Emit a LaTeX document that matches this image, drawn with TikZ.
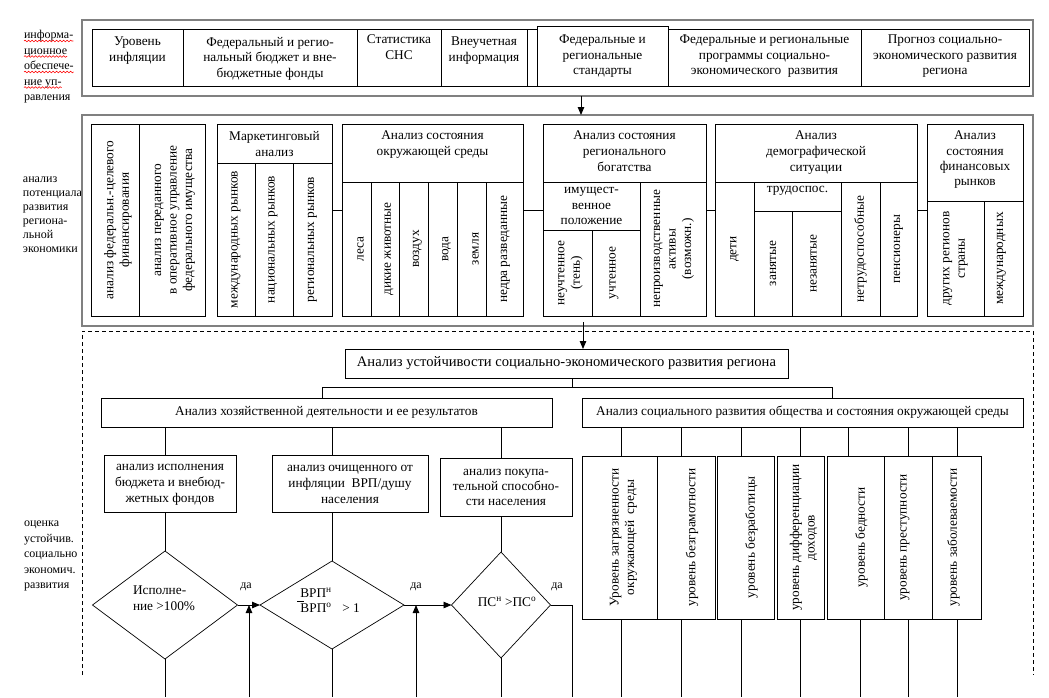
\documentclass[tikz,border=0pt]{standalone}
\usepackage{fontspec}
\setmainfont{Liberation Serif}
\usetikzlibrary{arrows.meta,shapes.geometric,fit,decorations.pathmorphing}
\begin{document}
\begin{tikzpicture}[x=1pt,y=-1pt,
 every node/.style={inner sep=0pt, outer sep=0pt, font=\fontsize{13.3}{15.5}\selectfont},
 cell/.style={draw, line width=0.9pt, fill=white, inner sep=0pt},
 gframe/.style={draw=black!50, line width=1.5pt, inner sep=0pt},
 ln/.style={line width=0.9pt},
 arr/.style={line width=0.9pt, -{Triangle[length=8pt,width=6.5pt]}},
 vt/.style={rotate=90, align=center},
 ct/.style={align=center},
 hd/.style={align=center, anchor=north, font=\fontsize{13.3}{16}\selectfont},
 lbl/.style={anchor=base west, font=\fontsize{12}{15}\selectfont},
 dia/.style={diamond, draw, line width=0.7pt, inner sep=0pt},
 yes/.style={font=\fontsize{12}{14}\selectfont},
 wavy/.style={draw=red, line width=0.6pt, decorate, decoration={snake, amplitude=0.8pt, segment length=3.5pt}}
]
\useasboundingbox (0,0) rectangle (1049,697);

% ---------- left labels
\foreach \t [count=\i] in {информа-,ционное,обеспече-,ние уп-,равления}
  \node[lbl] (La\i) at (24,{23+15.5*\i}) {\t};
\foreach \i in {1,...,4}
  \draw[wavy] ([yshift=-2.5pt]La\i.base west) -- ([yshift=-2.5pt]La\i.base east);
\foreach \t [count=\i] in {анализ,потенциала,развития,региона-,льной,экономики}
  \node[lbl] (Lb\i) at (23,{168.5+14*\i}) {\t};
\foreach \t [count=\i] in {оценка,устойчив.,социально,экономич.,развития}
  \node[lbl] (Lc\i) at (24,{511+15.5*\i}) {\t};

% ---------- top block
\node[gframe, fit={(82,20) (1033,96)}] (F1) {};
\node[cell, fit={(92,29) (183,86)}] (T1) {};
\node[cell, fit={(183,29) (357,86)}] (T2) {};
\node[cell, fit={(357,29) (441,86)}] (T3) {};
\node[cell, fit={(441,29) (527,86)}] (T4) {};
\node[cell, fit={(527,29) (537,86)}] (T4b) {};
\node[cell, fit={(668,29) (861,86)}] (T6) {};
\node[cell, fit={(861,29) (1029,86)}] (T7) {};
\node[cell, fit={(537,26) (668,86)}] (T5) {};
\node[ct, anchor=north] (T1t) at (T1.north |- 0,37) {Уровень\\инфляции};
\node[ct, anchor=north] (T2t) at (T2.north |- 0,37) {Федеральный и регио-\\нальный бюджет и вне-\\бюджетные фонды};
\node[ct, anchor=north] (T3t) at (T3.north |- 0,35) {Статистика\\СНС};
\node[ct, anchor=north] (T4t) at (T4.north |- 0,37) {Внеучетная\\информация};
\node[ct, anchor=north] (T5t) at (T5.north |- 0,35) {Федеральные и\\региональные\\стандарты};
\node[ct, anchor=north] (T6t) at (T6.north |- 0,35) {Федеральные и региональные\\программы социально-\\экономического\ \ развития};
\node[ct, anchor=north] (T7t) at (T7.north |- 0,35) {Прогноз социально-\\экономического развития\\региона};

% ---------- second block
\node[gframe, fit={(82,115) (1033,326)}] (F2) {};
\coordinate (ax) at (581,0);
\draw[arr] (F1.south -| ax) -- (F2.north -| ax);

\node[cell, fit={(91,124) (139,316)}] (A1) {};
\node[cell, fit={(139,124) (205,316)}] (A2) {};
\node[vt] (A1t) at ([xshift=3pt]A1.center) {анализ федеральн.-целевого\\финансирования};
\node[vt] (A2t) at ([xshift=3pt]A2.center) {анализ переданного\\в оперативное управление\\федерального имущества};

\node[cell, fit={(217,124) (332,163)}] (Mh) {};
\node[cell, fit={(217,163) (255,316)}] (M1) {};
\node[cell, fit={(255,163) (293,316)}] (M2) {};
\node[cell, fit={(293,163) (332,316)}] (M3) {};
\node[hd] (Mht) at (Mh.north |- 0,131) {Маркетинговый\\анализ};
\node[vt] (M1t) at (M1.center) {международных рынков};
\node[vt] (M2t) at ([xshift=-1pt]M2.center) {национальных рынков};
\node[vt] (M3t) at (M3.center) {региональных рынков};

\node[cell, fit={(342,124) (523,182)}] (Eh) {};
\node[cell, fit={(342,182) (371,316)}] (E1) {};
\node[cell, fit={(371,182) (399,316)}] (E2) {};
\node[cell, fit={(399,182) (428,316)}] (E3) {};
\node[cell, fit={(428,182) (457,316)}] (E4) {};
\node[cell, fit={(457,182) (486,316)}] (E5) {};
\node[cell, fit={(486,182) (523,316)}] (E6) {};
\node[hd] (Eht) at (Eh.north |- 0,131) {Анализ состояния\\окружающей среды};
\node[vt] (E1t) at ([xshift=4pt]E1.center) {леса};
\node[vt] (E2t) at ([xshift=4pt]E2.center) {дикие животные};
\node[vt] (E3t) at ([xshift=4pt]E3.center) {воздух};
\node[vt] (E4t) at ([xshift=4pt]E4.center) {вода};
\node[vt] (E5t) at ([xshift=4pt]E5.center) {земля};
\node[vt] (E6t) at ([xshift=1pt]E6.center) {недра разведанные};

\node[cell, fit={(543,124) (706,182)}] (Wh) {};
\node[cell, fit={(543,182) (640,230)}] (Ws) {};
\node[cell, fit={(543,230) (592,316)}] (W1) {};
\node[cell, fit={(592,230) (640,316)}] (W2) {};
\node[cell, fit={(640,182) (706,316)}] (W3) {};
\node[hd] (Wht) at (Wh.north |- 0,131) {Анализ состояния\\регионального\\богатства};
\node[ct] (Wst) at (Ws.center) {имущест-\\венное\\положение};
\node[vt] (W1t) at ([xshift=3pt]W1.center) {неучтенное\\(тень)};
\node[vt] (W2t) at ([xshift=-2pt]W2.center) {учтенное};
\node[vt] (W3t) at ([xshift=1pt]W3.center) {непроизводственные\\активы\\(возможн.)};

\node[cell, fit={(715,124) (917,182)}] (Dh) {};
\node[cell, fit={(715,182) (754,316)}] (D1) {};
\node[cell, fit={(754,182) (841,211)}] (Dt) {};
\node[cell, fit={(754,211) (792,316)}] (D2) {};
\node[cell, fit={(792,211) (841,316)}] (D3) {};
\node[cell, fit={(841,182) (880,316)}] (D4) {};
\node[cell, fit={(880,182) (917,316)}] (D5) {};
\node[hd] (Dht) at (Dh.north |- 0,131) {Анализ\\демографической\\ситуации};
\node[ct, anchor=north] (Dtt) at (Dt.north |- 0,186) {трудоспос.};
\node[vt] (D1t) at (D1.center) {дети};
\node[vt] (D2t) at (D2.center) {занятые};
\node[vt] (D3t) at ([xshift=-3pt]D3.center) {незанятые};
\node[vt] (D4t) at (D4.center) {нетрудоспособные};
\node[vt] (D5t) at (D5.center) {пенсионеры};

\node[cell, fit={(927,124) (1023,201)}] (Fh) {};
\node[cell, fit={(927,201) (984,316)}] (Fc1) {};
\node[cell, fit={(984,201) (1023,316)}] (Fc2) {};
\node[hd, font=\fontsize{13.3}{15.3}\selectfont] (Fht) at (Fh.north |- 0,131) {Анализ\\состояния\\финансовых\\рынков};
\node[vt] (Fc1t) at (Fc1.center) {других регионов\\страны};
\node[vt] (Fc2t) at ([xshift=-2pt]Fc2.center) {международных};

\coordinate (sp) at (0,210);
\draw[ln] (M3.east |- sp) -- (E1.west |- sp);
\draw[ln] (E6.east |- sp) -- (W1.west |- sp);
\draw[ln] (W3.east |- sp) -- (D1.west |- sp);
\draw[ln] (D5.east |- sp) -- (Fc1.west |- sp);

% ---------- third block
\draw[line width=0.8pt, dash pattern=on 4pt off 3pt] (82,675) -- (82,331) -- (1033,331) -- (1033,675);

\node[cell, fit={(345,349) (788,378)}] (S) {};
\node[font=\fontsize{14.6}{16}\selectfont] (St) at (S.center) {Анализ устойчивости социально-экономического развития региона};
\coordinate (ay) at (583,0);
\draw[arr] ([yshift=4pt]F2.south -| ay) -- (S.north -| ay);

\node[cell, fit={(101,398) (552,427)}] (H) {};
\node (Ht) at (H.center) {Анализ хозяйственной деятельности и ее результатов};
\node[cell, fit={(582,398) (1023,427)}] (So) {};
\node (Sot) at (So.center) {Анализ социального развития общества и состояния окружающей среды};

\coordinate (sy) at (0,387);
\coordinate (sx) at (572,0);
\coordinate (hx) at (322,0);
\coordinate (ox) at (832,0);
\draw[ln] (S.south -| sx) -- (sx |- sy);
\draw[ln] (H.north -| hx) -- (hx |- sy) -- (ox |- sy) -- (So.north -| ox);

\node[cell, fit={(104,455) (236,512)}] (B1) {};
\node[cell, fit={(272,455) (428,512)}] (B2) {};
\node[cell, fit={(440,458) (572,516)}] (B3) {};
\node[ct, font=\fontsize{13.3}{16}\selectfont] (B1t) at ([yshift=-1pt]B1.center) {анализ исполнения\\бюджета и внебюд-\\жетных фондов};
\node[ct, font=\fontsize{13.3}{16}\selectfont] (B2t) at ([yshift=-1pt]B2.center) {анализ очищенного от\\инфляции\ \ ВРП/душу\\населения};
\node[ct, font=\fontsize{13.3}{15}\selectfont] (B3t) at (B3.center) {анализ покупа-\\тельной способно-\\сти населения};

\coordinate (c1) at (165,0);
\coordinate (c2) at (332,0);
\coordinate (c3) at (501,0);
\draw[ln] (H.south -| c1) -- (B1.north -| c1);
\draw[ln] (H.south -| c2) -- (B2.north -| c2);
\draw[ln] (H.south -| c3) -- (B3.north -| c3);

\node[dia, minimum width=145pt, minimum height=108pt] (Dm1) at (165,605) {};
\node[dia, minimum width=144pt, minimum height=88pt] (Dm2) at (332,605) {};
\node[dia, minimum width=99pt, minimum height=106pt] (Dm3) at (501,605) {};
\node[align=left, font=\fontsize{13.3}{16.5}\selectfont] (Dm1t) at (164,598) {Исполне-\\ние >100\%};
\node (Dm2a) at (316,593) {ВРП\textsuperscript{н}};
\node (Dm2b) at (316,608) {ВРП\textsuperscript{о}};
\node (Dm2c) at (351,608) {> 1};
\draw[line width=0.6pt] (297,601) -- (304,601);
\node (Dm3t) at (507,602) {ПС\textsuperscript{н} >ПС\textsuperscript{о}};

\draw[ln] (B1.south -| c1) -- (Dm1.north);
\draw[ln] (B2.south -| c2) -- (Dm2.north);
\draw[ln] (B3.south -| c3) -- (Dm3.north);

\coordinate (bot) at (0,697);
\draw[ln] (Dm1.south) -- (Dm1.south |- bot);
\draw[ln] (Dm2.south) -- (Dm2.south |- bot);
\draw[ln] (Dm3.south) -- (Dm3.south |- bot);

\node[yes] (y1) at (246,587) {да};
\node[yes] (y2) at (416,587) {да};
\node[yes] (y3) at (557,587) {да};

\coordinate (u1) at (249,697);
\coordinate (u2) at (416,697);
\coordinate (r3) at (572,697);
\draw[arr] (Dm1.east) -- (Dm2.west);
\draw[arr] (u1) -- (u1 |- Dm1.east);
\draw[arr] (Dm2.east) -- (Dm3.west);
\draw[arr] (u2) -- (u2 |- Dm2.east);
\draw[ln] (Dm3.east) -- (r3 |- Dm3.east) -- (r3);

% social indicators
\node[cell, fit={(582,456) (657,619)}] (G1) {};
\node[cell, fit={(657,456) (715,619)}] (G2) {};
\node[cell, fit={(717,456) (774,619)}] (G3) {};
\node[cell, fit={(777,456) (824,619)}] (G4) {};
\node[cell, fit={(827,456) (884,619)}] (G5) {};
\node[cell, fit={(884,456) (932,619)}] (G6) {};
\node[cell, fit={(932,456) (981,619)}] (G7) {};
\node[vt] (G1t) at ([xshift=4pt]G1.center) {Уровень загрязненности\\окружающей\ \ среды};
\node[vt] (G2t) at ([xshift=6pt]G2.center) {уровень безграмотности};
\node[vt] (G3t) at ([xshift=6pt]G3.center) {уровень безработицы};
\node[vt] (G4t) at ([xshift=3pt]G4.center) {уровень дифференциации\\доходов};
\node[vt] (G5t) at ([xshift=6pt]G5.center) {уровень бедности};
\node[vt] (G6t) at ([xshift=-3pt]G6.center) {уровень преступности};
\node[vt] (G7t) at ([xshift=-3pt]G7.center) {уровень заболеваемости};

\foreach \g/\xa/\xb in {G1/621/621, G2/681/681, G3/741/741, G4/800/800, G5/848/860, G6/908/908, G7/957/957}{
  \coordinate (\g top) at (\xa,0);
  \coordinate (\g bot) at (\xb,0);
  \draw[ln] (So.south -| \g top) -- (\g.north -| \g top);
  \draw[ln] (\g.south -| \g bot) -- (\g bot |- bot);
}
\end{tikzpicture}
\end{document}
